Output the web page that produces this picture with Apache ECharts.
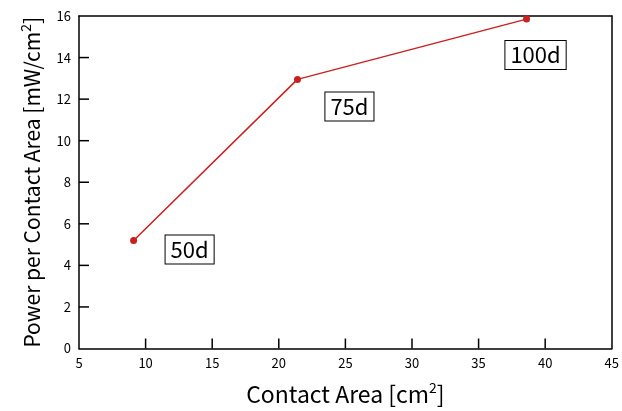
<!DOCTYPE html>
<html>
<head>
<meta charset="utf-8">
<script src="https://cdn.jsdelivr.net/npm/echarts@6/dist/echarts.min.js"></script>
<style>
  html, body { margin: 0; padding: 0; background: #fff; }
  #main { width: 622px; height: 411px; }
</style>
</head>
<body>
<div id="main"></div>
<script>
// contact area (cm^2) and power per contact area (mW/cm^2)
const contactArea = [9.1, 21.4, 38.6];
const powerPerArea = [5.2, 12.95, 15.85];
const dayLabels = ['50d', '75d', '100d'];
const xTicks = [10, 15, 20, 25, 30, 35, 40];
const yTicks = [2, 4, 6, 8, 10, 12, 14];

const FONT = '"Noto Sans CJK JP", "DejaVu Sans", sans-serif';

let myChart = echarts.init(document.getElementById('main'));

// 注釈ラベルの位置（点からのずれ）
const offsets = [[56, 9], [52, 27], [9, 36]];

// 上と右の枠線（目盛りなし）
const frame = (min, max, pos) => ({
    type: 'value', min: min, max: max, position: pos,
    axisLine: { show: true, onZero: false, lineStyle: { color: '#000', width: 1.5 } },
    axisTick: { show: false },
    axisLabel: { show: false },
    splitLine: { show: false }
});

// 内向きの目盛り線（custom series で描く）
const tickSeries = (data, dx, dy) => ({
    type: 'custom',
    silent: true,
    clip: false,
    z: 5,
    data: data,
    renderItem: (params, api) => {
        const p = api.coord([api.value(0), api.value(1)]);
        return {
            type: 'line',
            shape: { x1: p[0], y1: p[1], x2: p[0] + dx, y2: p[1] + dy },
            style: { stroke: '#000', lineWidth: 1.5 }
        };
    }
});

let option = {
    animation: false,
    grid: {
        left: 79,
        right: 7,
        top: 16,
        bottom: 59
    },
    xAxis: [
        {
            type: 'value',
            min: 5,
            max: 45,
            interval: 5,
            name: 'Contact Area [cm{sup|2}]',
            nameLocation: 'middle',
            nameGap: 32,
            nameTextStyle: {
                fontFamily: FONT,
                fontSize: 23,
                color: '#000',
                rich: { sup: { fontFamily: FONT, fontSize: 14, verticalAlign: 'bottom', padding: [0, 0, 14, 0] } }
            },
            axisLine: { show: true, onZero: false, lineStyle: { color: '#000', width: 1.5 } },
            axisTick: { show: false },
            axisLabel: { color: '#000', fontSize: 13, fontFamily: FONT, margin: 8 },
            splitLine: { show: false }
        },
        frame(5, 45, 'top')
    ],
    yAxis: [
        {
            type: 'value',
            min: 0,
            max: 16,
            interval: 2,
            name: 'Power per Contact Area [mW/cm{sup|2}]',
            nameLocation: 'middle',
            nameGap: 34,
            nameTextStyle: {
                fontFamily: FONT,
                fontSize: 21,
                color: '#000',
                rich: { sup: { fontFamily: FONT, fontSize: 14, verticalAlign: 'bottom', padding: [0, 0, 12, 0] } }
            },
            axisLine: { show: true, onZero: false, lineStyle: { color: '#000', width: 1.5 } },
            axisTick: { show: false },
            axisLabel: { color: '#000', fontSize: 13, fontFamily: FONT, margin: 8 },
            splitLine: { show: false }
        },
        frame(0, 16, 'right')
    ],
    series: [
        {
            type: 'line',
            symbol: 'circle',
            symbolSize: 7,
            z: 10,
            itemStyle: { color: '#cc1f1f' },
            lineStyle: { color: '#cc1f1f', width: 1.5 },
            data: contactArea.map((x, i) => ({
                value: [x, powerPerArea[i]],
                label: {
                    show: true,
                    formatter: dayLabels[i],
                    position: 'inside',
                    offset: offsets[i],
                    fontFamily: FONT,
                    fontSize: 22,
                    color: '#000',
                    backgroundColor: '#fff',
                    borderColor: '#000',
                    borderWidth: 1,
                    padding: [4, 5, 2, 5]
                }
            }))
        },
        tickSeries(xTicks.map(v => [v, 0]), 0, -10),
        tickSeries(yTicks.map(v => [5, v]), 10, 0)
    ]
};
myChart.setOption(option);
</script>
</body>
</html>
